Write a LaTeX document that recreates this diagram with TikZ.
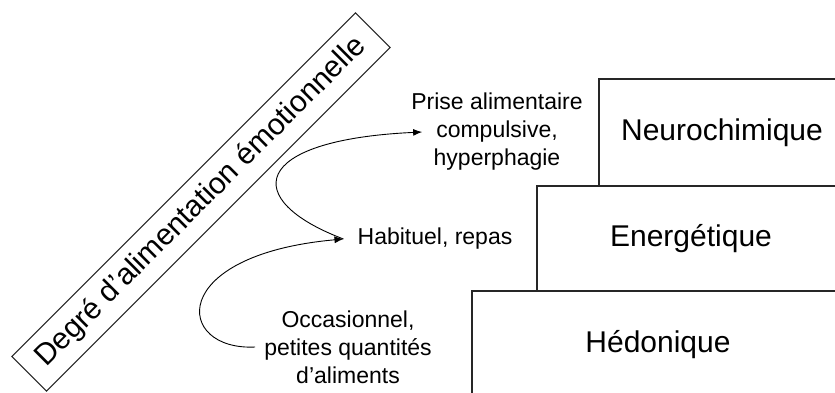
\documentclass[tikz,border=0pt]{standalone}
\usepackage{fontspec}
\setmainfont{Liberation Sans}
\usetikzlibrary{arrows.meta}

\begin{document}
\begin{tikzpicture}[x=1pt,y=-1pt,
		niveau/.style={draw=black!85,line width=1.1pt,inner sep=0pt,font=\fontsize{30}{36}\selectfont},
		etiquette/.style={align=center,inner sep=0pt,font=\fontsize{23}{28}\selectfont},
		fleche/.style={line width=0.9pt,-{Latex[length=9pt,width=7pt]}}]
			\clip (0,0) rectangle (835,392);

			\node[niveau,minimum width=246pt,minimum height=107pt] (neuro) at (722,132.5) {Neurochimique};
			\node[niveau,minimum width=308pt,minimum height=105pt] (energ) at (691,238.5) {Energétique};
			\node[niveau,minimum width=372pt,minimum height=108pt] (hedon) at (658,345) {Hédonique};

			\node[niveau,rotate=45,minimum width=486pt,minimum height=49pt] (degre) at (201,202)
						{Degré d’alimentation émotionnelle};

			\node[etiquette] (prise) at (497,132) {Prise alimentaire\\compulsive,\\hyperphagie};
			\node[etiquette,inner xsep=14pt] (habit) at (435,239) {Habituel, repas};
			\node[etiquette,inner xsep=9pt] (occas) at (348,347) {Occasionnel,\\petites quantités\\d’aliments};

			\draw[fleche] (occas.west) .. controls +(-80,4) and +(-178,16) .. (habit.west);
			\draw[fleche] (habit.west) .. controls +(-103,-39) and +(-173,8) .. ([xshift=11pt]prise.west);
\end{tikzpicture}
\end{document}
